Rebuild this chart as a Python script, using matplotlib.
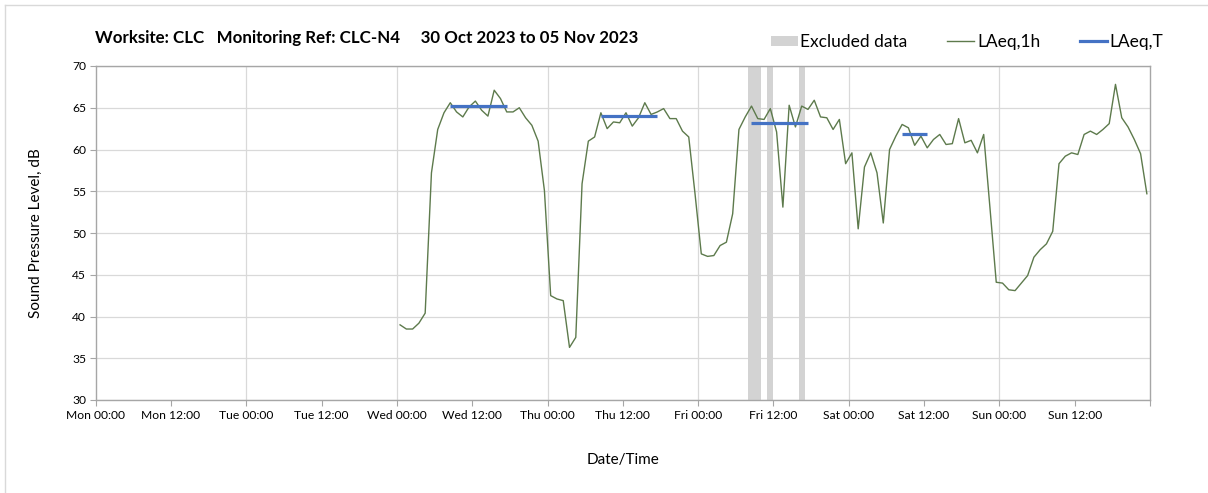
import matplotlib.pyplot as plt
import pandas as pd
from matplotlib.lines import Line2D
from matplotlib.patches import Patch

plt.rcParams["font.family"] = ["Lato", "DejaVu Sans"]

TITLE = "Worksite: CLC   Monitoring Ref: CLC-N4     30 Oct 2023 to 05 Nov 2023"

# hourly LAeq,1h readings, logged on the half hour from Wed 01 Nov 00:30
FIRST_READING = "2023-11-01 00:30"
laeq_wed = [39.0, 38.5, 38.5, 39.2, 40.4, 57.2, 62.4, 64.4, 65.6, 64.5, 63.9, 65.1,
            65.8, 64.7, 64.0, 67.1, 66.1, 64.5, 64.5, 65.0, 63.8, 62.9, 61.0, 55.1]
laeq_thu = [42.5, 42.1, 41.9, 36.3, 37.5, 55.9, 61.0, 61.5, 64.4, 62.5, 63.3, 63.2,
            64.4, 62.8, 63.8, 65.6, 64.2, 64.5, 64.9, 63.7, 63.7, 62.2, 61.5, 54.7]
laeq_fri = [47.5, 47.2, 47.3, 48.5, 48.9, 52.3, 62.4, 63.9, 65.2, 63.7, 63.6, 64.9,
            62.1, 53.1, 65.3, 62.7, 65.2, 64.8, 65.9, 63.9, 63.8, 62.4, 63.6, 58.3]
laeq_sat = [59.6, 50.5, 57.9, 59.6, 57.2, 51.2, 60.0, 61.6, 63.0, 62.6, 60.5, 61.6,
            60.2, 61.2, 61.8, 60.6, 60.7, 63.7, 60.8, 61.1, 59.6, 61.8, 53.0, 44.1]
laeq_sun = [44.0, 43.2, 43.1, 44.0, 44.9, 47.1, 48.0, 48.7, 50.2, 58.3, 59.2, 59.6,
            59.4, 61.8, 62.2, 61.8, 62.4, 63.1, 67.8, 63.8, 62.7, 61.2, 59.5, 54.7]

# LAeq,T over the working period each day
period_start = ["2023-11-01 08:30", "2023-11-02 08:30", "2023-11-03 08:30", "2023-11-04 08:30"]
period_end = ["2023-11-01 17:30", "2023-11-02 17:30", "2023-11-03 17:30", "2023-11-04 12:30"]
period_laeq = [65.2, 64.0, 63.2, 61.8]

# hours removed from the assessment
excluded_start = ["2023-11-03 08:00", "2023-11-03 11:00", "2023-11-03 16:00"]
excluded_end = ["2023-11-03 10:00", "2023-11-03 12:00", "2023-11-03 17:00"]

WEEK_START = "2023-10-30 00:00"
WEEK_END = "2023-11-06 00:00"

LINE_GREEN = "#5d7a4c"
LINE_BLUE = "#4472c4"
BAND_GREY = "#d3d3d3"
GRID_GREY = "#d9d9d9"
SPINE_GREY = "#a6a6a6"


def make_figure():
    laeq_1h = laeq_wed + laeq_thu + laeq_fri + laeq_sat + laeq_sun
    times = pd.date_range(FIRST_READING, periods=len(laeq_1h), freq="h")

    fig = plt.figure(figsize=(12.08, 4.93), dpi=100)
    ax = fig.add_axes([95.7 / 1208, 1 - 400 / 493, (1150 - 95.7) / 1208, (400 - 66) / 493])

    for start, end in zip(excluded_start, excluded_end):
        ax.axvspan(pd.Timestamp(start), pd.Timestamp(end), color=BAND_GREY, lw=0, zorder=1)

    ax.plot(times, laeq_1h, color=LINE_GREEN, lw=1.0, zorder=3)
    for start, end, level in zip(period_start, period_end, period_laeq):
        ax.plot([pd.Timestamp(start), pd.Timestamp(end)], [level, level],
                color=LINE_BLUE, lw=2.3, solid_capstyle="butt", zorder=4)

    ax.set_xlim(pd.Timestamp(WEEK_START), pd.Timestamp(WEEK_END))
    ax.set_ylim(30, 70)
    ax.set_yticks(range(30, 71, 5))

    ticks = pd.date_range(WEEK_START, WEEK_END, freq="12h")
    ax.set_xticks(ticks)
    ax.set_xticklabels([t.strftime("%a %H:%M") for t in ticks[:-1]] + [""])
    ax.tick_params(axis="both", labelsize=8.7, colors="#000000", length=4,
                   width=0.8, color=SPINE_GREY, pad=3)

    ax.yaxis.grid(True, color=GRID_GREY, lw=0.9, zorder=0)
    for day in pd.date_range(WEEK_START, WEEK_END, freq="24h")[1:-1]:
        ax.axvline(day, color=GRID_GREY, lw=0.9, zorder=0)
    ax.set_axisbelow(True)
    for spine in ax.spines.values():
        spine.set_color(SPINE_GREY)
        spine.set_linewidth(1.0)

    ax.set_ylabel("Sound Pressure Level, dB", fontsize=11, labelpad=21)
    ax.set_xlabel("Date/Time", fontsize=11, labelpad=23)

    fig.text(95 / 1208, 1 - 38 / 493, TITLE, fontsize=12.2, fontweight="bold",
             ha="left", va="center")

    handles = [
        Patch(facecolor=BAND_GREY, edgecolor="none"),
        Line2D([], [], color=LINE_GREEN, lw=1.0),
        Line2D([], [], color=LINE_BLUE, lw=2.3),
    ]
    fig.legend(handles, ["Excluded data", "LAeq,1h", "LAeq,T"], ncol=3,
               loc="center", bbox_to_anchor=(967 / 1208, 1 - 42 / 493),
               frameon=False, fontsize=12.5, handlelength=1.55, handleheight=0.55,
               handletextpad=0.15, columnspacing=2.3)

    # chart border
    fig.add_artist(Line2D([5 / 1208, 5 / 1208], [0, 1 - 5 / 493], color=GRID_GREY,
                          lw=1.0, transform=fig.transFigure))
    fig.add_artist(Line2D([5 / 1208, 1], [1 - 5 / 493, 1 - 5 / 493], color=GRID_GREY,
                          lw=1.0, transform=fig.transFigure))
    return fig


def main():
    fig = make_figure()
    fig.savefig("out.png", dpi=100)


if __name__ == "__main__":
    main()
